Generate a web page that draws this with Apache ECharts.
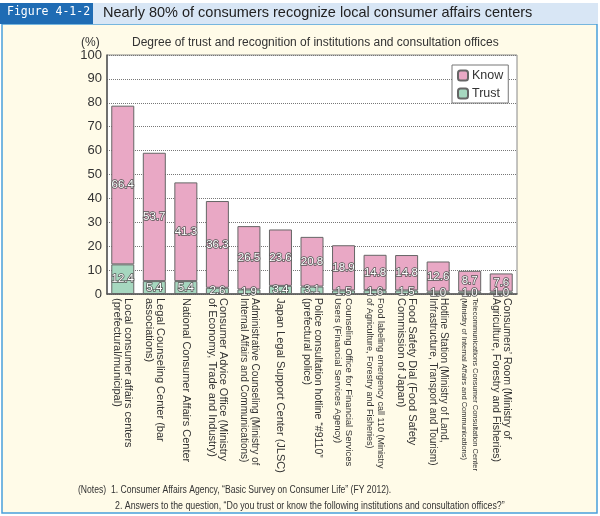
<!DOCTYPE html>
<html>
<head>
<meta charset="utf-8">
<script src="https://cdn.jsdelivr.net/npm/echarts@6/dist/echarts.min.js"></script>
<style>
  body { margin: 0; background: #fff; }
  #main { width: 600px; height: 516px; }
</style>
</head>
<body>
<div id="main"></div>
<script>
// 数据
var categories = [
  'Local consumer affairs centers\n(prefectural/municipal)',
  'Legal Counseling Center (bar\nassociations)',
  'National Consumer Affairs Center',
  'Consumer Advice Office (Ministry\nof Economy, Trade and Industry)',
  'Administrative Counseling (Ministry of\nInternal Affairs and Communications)',
  'Japan Legal Support Center (JLSC)',
  'Police consultation hotline \u201c#9110\u201d\n(prefectural police)',
  'Counseling Office for Financial Services\nUsers (Financial Services Agency)',
  'Food labeling emergency call 110 (Ministry\nof Agriculture, Forestry and Fisheries)',
  'Food Safety Dial (Food Safety\nCommission of Japan)',
  'Hotline Station (Ministry of Land,\nInfrastructure, Transport and Tourism)',
  'Telecommunications Consumer Consultation Center\n(Ministry of Internal Affairs and Communications)',
  'Consumers\u2019 Room (Ministry of\nAgriculture, Forestry and Fisheries)'
];
var trustData = [12.4, 5.4, 5.4, 2.6, 1.9, 3.4, 3.1, 1.5, 1.6, 1.5, 1.0, 1.0, 1.0];
var knowData = [66.4, 53.7, 41.3, 36.3, 26.5, 23.6, 20.8, 18.9, 14.8, 14.8, 12.6, 8.7, 7.6];
var yTicks = [0, 10, 20, 30, 40, 50, 60, 70, 80, 90, 100];

var titleText = 'Nearly 80% of consumers recognize local consumer affairs centers';
var subTitle = 'Degree of trust and recognition of institutions and consultation offices';
var notes1 = '1. Consumer Affairs Agency, \u201cBasic Survey on Consumer Life\u201d (FY 2012).';
var notes2 = '2. Answers to the question, \u201cDo you trust or know the following institutions and consultation offices?\u201d';

// 轴标签字号（长文本缩小，约占175px）
var rich = {};
for (var s = 14; s <= 22; s++) {
  rich['s' + s] = { fontSize: s / 2, lineHeight: 11, color: '#333' };
}
function labelFmt(v) {
  var lines = v.split('\n');
  var maxLen = 0;
  lines.forEach(function (l) { if (l.length > maxLen) maxLen = l.length; });
  var size = Math.max(14, Math.min(22, Math.floor(2 * 175 / (maxLen * 0.455))));
  return lines.map(function (l) { return '{s' + size + '|' + l + '}'; }).join('\n');
}

var barLabel = {
  show: true,
  position: 'inside',
  fontSize: 11.5,
  color: '#fff',
  textBorderColor: '#555',
  textBorderWidth: 1.5,
  fontFamily: 'Arial',
  formatter: function (p) { return p.value.toFixed(1); }
};

var chart = echarts.init(document.getElementById('main'));
var option = {
  animation: false,
  textStyle: { fontFamily: 'Arial, "Liberation Sans", sans-serif' },
  graphic: [
    { type: 'rect', shape: { x: 2, y: 24, width: 595, height: 489 },
      style: { fill: '#fffbe8', stroke: '#4aa0da', lineWidth: 1.5 }, z: -10 },
    { type: 'rect', shape: { x: 0, y: 3, width: 93, height: 21 }, style: { fill: '#1f6cb4' } },
    { type: 'rect', shape: { x: 93, y: 3, width: 505, height: 21 }, style: { fill: '#d8e6f5' } },
    { type: 'text', left: 7, top: 6, style: { text: 'Figure 4-1-2', fill: '#fff', font: '11.5px "DejaVu Sans Mono", monospace' } },
    { type: 'text', left: 103, top: 5, style: { text: titleText, fill: '#222', font: '14.5px Arial' } },
    { type: 'text', left: 81, top: 37, style: { text: '(%)', fill: '#333', font: '12px Arial' } },
    { type: 'text', left: 132, top: 37, style: { text: subTitle, fill: '#333', font: '12px Arial' } },
    { type: 'text', x: 78, y: 485, scaleX: 0.86, style: { text: '(Notes)', fill: '#333', font: '10px Arial' } },
    { type: 'text', x: 111, y: 485, scaleX: 0.86, style: { text: notes1, fill: '#333', font: '10px Arial' } },
    { type: 'text', x: 115, y: 501, scaleX: 0.88, style: { text: notes2, fill: '#333', font: '10px Arial' } }
  ],
  legend: {
    data: ['Know', 'Trust'],
    orient: 'vertical',
    left: 452,
    top: 65,
    itemWidth: 10,
    itemHeight: 10,
    itemGap: 5,
    padding: [4, 5, 3, 5],
    backgroundColor: '#fff',
    borderColor: '#777',
    borderWidth: 1,
    textStyle: { fontSize: 12.5, color: '#333', padding: [0, 0, 0, -1] }
  },
  grid: {
    left: 107,
    right: 83,
    top: 55,
    bottom: 222,
    show: true,
    backgroundColor: '#fff',
    borderColor: '#888',
    borderWidth: 1
  },
  xAxis: {
    type: 'category',
    data: categories,
    axisLine: { lineStyle: { color: '#555', width: 1.5 } },
    axisTick: { inside: true, length: 4, lineStyle: { color: '#555' } },
    axisLabel: {
      interval: 0,
      rotate: -90,
      margin: 4,
      formatter: labelFmt,
      rich: rich
    }
  },
  yAxis: {
    type: 'value',
    min: yTicks[0],
    max: yTicks[yTicks.length - 1],
    interval: yTicks[1] - yTicks[0],
    axisLine: { show: true, lineStyle: { color: '#555', width: 1.5 } },
    axisTick: { show: false },
    axisLabel: { fontSize: 13, color: '#333', margin: 5 },
    splitLine: { lineStyle: { type: 'dotted', color: '#777' } }
  },
  series: [
    {
      name: 'Trust',
      type: 'bar',
      stack: 'total',
      data: trustData,
      barWidth: 23,
      itemStyle: { color: '#a6d7bf', borderColor: '#666', borderWidth: 1 },
      label: barLabel
    },
    {
      name: 'Know',
      type: 'bar',
      stack: 'total',
      data: knowData,
      barWidth: 23,
      itemStyle: { color: '#e9a8c5', borderColor: '#666', borderWidth: 1 },
      label: barLabel
    }
  ]
};
chart.setOption(option);
</script>
</body>
</html>
